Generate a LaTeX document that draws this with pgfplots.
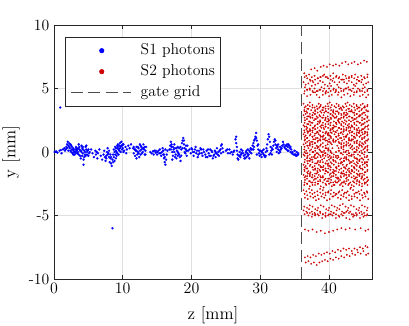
\documentclass[border=0pt]{standalone}
\usepackage{pgfplots}
\pgfplotsset{compat=1.18}
\definecolor{sone}{rgb}{0,0,1}
\definecolor{stwo}{rgb}{0.8,0,0}
\definecolor{axgray}{rgb}{0.15,0.15,0.15}
\pgfplotsset{
  s1 style/.style={only marks, mark=*, color=sone, mark size=0.85bp, mark options={line width=0.1bp}},
  s2 style/.style={only marks, mark=*, color=stwo, mark size=0.6bp, mark options={line width=0.1bp}},
}
% extra S2 tracks sharing one x column
\pgfplotstableread{
x e1 e2 e3 e4 e5 e6 e7 e8 e9 e10 e11 e12 e13 e14 e15 e16 e17 e18 e19 e20
36.45 3.5 3.2 2.7 2.3 2.0 1.55 1.2 0.9 0.4 0.0 -0.3 -0.8 -1.2 -1.5 -2.0 -2.4 5.9 4.8 -3.3 -4.9
36.83 3.4 3.1 2.8 2.2 1.9 1.65 1.1 0.8 0.5 -0.1 -0.4 -0.7 -1.3 -1.6 -1.9 -2.5 5.8 4.9 -3.4 -4.8
37.21 3.6 3.0 2.8 2.4 1.8 1.65 1.3 0.7 0.5 0.1 -0.5 -0.7 -1.1 -1.7 -1.9 -2.3 5.7 4.9 -3.2 -4.8
37.59 3.5 2.9 2.7 2.3 1.7 1.55 1.2 0.6 0.4 0.0 -0.6 -0.8 -1.2 -1.8 -2.0 -2.4 5.6 4.8 -3.3 -4.9
37.97 3.3 3.0 2.6 2.1 1.8 1.45 1.0 0.7 0.3 -0.2 -0.5 -0.9 -1.4 -1.7 -2.1 -2.6 5.7 4.7 -3.5 -5.0
38.35 3.4 3.1 2.7 2.2 1.9 1.55 1.1 0.8 0.4 -0.1 -0.4 -0.8 -1.3 -1.6 -2.0 -2.5 5.8 4.8 -3.4 -4.9
38.73 3.6 3.2 2.8 2.4 2.0 1.65 1.3 0.9 0.5 0.1 -0.3 -0.7 -1.1 -1.5 -1.9 -2.3 5.9 4.9 -3.2 -4.8
39.11 3.5 3.3 2.7 2.3 2.1 1.55 1.2 1.0 0.4 0.0 -0.2 -0.8 -1.2 -1.4 -2.0 -2.4 6.0 4.8 -3.3 -4.9
39.49 3.4 3.2 2.6 2.2 2.0 1.45 1.1 0.9 0.3 -0.1 -0.3 -0.9 -1.3 -1.5 -2.1 -2.5 5.9 4.7 -3.4 -5.0
39.87 3.6 3.1 2.6 2.4 1.9 1.45 1.3 0.8 0.3 0.1 -0.4 -0.9 -1.1 -1.6 -2.1 -2.3 5.8 4.7 -3.2 -5.0
40.25 3.5 3.0 2.7 2.3 1.8 1.55 1.2 0.7 nan 0.0 -0.5 -0.8 -1.2 -1.7 -2.0 -2.4 5.7 4.8 -3.3 -4.9
40.63 3.3 3.1 2.8 2.1 1.9 1.65 1.0 0.8 nan nan -0.4 -0.7 -1.4 -1.6 -1.9 -2.6 5.8 4.9 -3.5 -4.8
41.01 3.5 3.2 2.7 2.3 2.0 1.55 1.2 0.9 nan 0.0 -0.3 -0.8 -1.2 -1.5 -2.0 -2.4 5.9 4.8 -3.3 -4.9
41.39 3.6 3.1 2.6 2.4 1.9 1.45 1.3 0.8 0.3 0.1 -0.4 -0.9 -1.1 -1.6 -2.1 -2.3 5.8 4.7 -3.2 -5.0
41.77 3.4 3.0 2.7 2.2 1.8 1.55 1.1 0.7 0.4 -0.1 -0.5 -0.8 -1.3 -1.7 -2.0 -2.5 5.7 4.8 -3.4 -4.9
42.15 3.5 3.0 2.8 2.3 1.8 1.65 1.2 0.7 0.5 0.0 -0.5 -0.7 -1.2 -1.7 -1.9 -2.4 5.7 4.9 -3.3 -4.8
42.53 3.6 3.1 2.9 2.4 1.9 1.75 1.3 0.8 0.6 0.1 -0.4 -0.6 -1.1 -1.6 -1.8 -2.3 5.8 5.0 -3.2 -4.7
42.91 3.4 3.2 2.8 2.2 2.0 1.65 1.1 0.9 0.5 -0.1 -0.3 -0.7 -1.3 -1.5 -1.9 -2.5 5.9 4.9 -3.4 -4.8
43.29 3.3 3.2 2.7 2.1 2.0 1.55 1.0 0.9 0.4 -0.2 -0.3 -0.8 -1.4 -1.5 -2.0 -2.6 5.9 4.8 -3.5 -4.9
43.67 3.5 3.1 2.6 2.3 1.9 1.45 1.2 0.8 0.3 0.0 -0.4 -0.9 -1.2 -1.6 -2.1 -2.4 5.8 4.7 -3.3 -5.0
44.05 3.6 3.0 2.7 2.4 1.8 1.55 1.3 0.7 0.4 0.1 -0.5 -0.8 -1.1 -1.7 -2.0 -2.3 5.7 4.8 -3.2 -4.9
44.43 3.5 2.9 2.8 2.3 1.7 1.65 1.2 0.6 0.5 0.0 -0.6 -0.7 -1.2 -1.8 -1.9 -2.4 5.6 4.9 -3.3 -4.8
44.81 3.4 3.0 2.7 2.2 1.8 1.55 1.1 0.7 0.4 -0.1 -0.5 -0.8 -1.3 -1.7 -2.0 -2.5 5.7 4.8 -3.4 -4.9
45.19 3.5 3.1 2.6 2.3 1.9 1.45 1.2 0.8 0.3 0.0 -0.4 -0.9 -1.2 -1.6 -2.1 -2.4 5.8 4.7 -3.3 -5.0
45.57 3.6 3.2 2.7 2.4 2.0 1.55 1.3 0.9 0.4 0.1 -0.3 -0.8 -1.1 -1.5 -2.0 -2.3 5.9 4.8 -3.2 -4.9
}\extra
\begin{document}
\begin{tikzpicture}
\begin{axis}[
  scale only axis, width=238.5bp, height=190.5bp,
  xmin=0, xmax=46.25, ymin=-10, ymax=10,
  xtick={0,10,20,30,40}, ytick={-10,-5,0,5,10},
  yticklabels={-10,-5,0,5,10},
  tick label style={font=\fontsize{11.8}{14}\selectfont},
  label style={font=\fontsize{13}{15}\selectfont},
  xlabel={z [mm]}, ylabel={y [mm]},
  xlabel style={yshift=-2.5bp},
  tick align=inside, major tick length=3bp,
  grid=major, grid style={line width=0.4bp, black!12},
  axis line style={axgray, line width=0.6bp},
  every tick/.style={axgray, line width=0.6bp},
  legend cell align=left,
  legend style={at={(0.0346,0.953)}, anchor=north west, draw=axgray,
    line width=0.6bp, inner xsep=3.75bp, inner ysep=4.5bp,
    font=\fontsize{11.8}{14}\selectfont,
    nodes={inner sep=0pt, text height=8.5bp, text depth=2.5bp},
    column sep=6.75bp, row sep=4.75bp},
]
% S1 photons
\addplot[s1 style,
  legend image code/.code={\path[draw=none] (0bp,0bp) -- (45bp,0bp); \fill[sone] (23bp,0bp) circle (1.6bp);}]
coordinates {
(0.1,0.0)(0.3,0.05)(0.5,-0.05)(0.8,0.1)(0.9,3.5)(1.1,-0.1)(1.0,0.15)(1.3,0.2)
(1.5,0.3)(1.6,0.1)(1.8,0.4)(1.9,0.6)(2.0,0.8)(2.1,0.5)(2.2,0.7)(2.3,0.3)(2.4,0.1)(2.5,0.5)(2.6,0.2)(2.7,-0.1)(2.8,0.3)(2.9,0.0)(3.0,-0.2)(3.1,0.2)(3.2,0.4)(3.3,0.1)(3.0,0.0)(2.9,0.2)(3.4,-0.1)(3.5,0.3)(3.6,0.6)(3.7,0.2)(3.8,-0.3)(3.9,0.1)
(4.0,0.5)(4.1,0.3)(4.2,-0.1)(4.3,-0.6)(4.3,-1.0)(4.4,-0.4)(4.5,0.0)(4.6,0.4)(4.7,0.2)(4.8,-0.2)(4.9,0.1)(5.0,-0.3)(4.2,0.2)(4.5,-0.2)(3.9,-0.5)
(5.2,0.0)(5.4,0.2)(5.6,-0.1)(5.8,-0.4)(6.0,0.1)(6.1,-0.2)(6.3,-0.5)(6.4,-0.1)(6.6,0.2)(6.8,-0.3)(7.0,-0.6)(6.2,0.0)
(7.2,-0.2)(7.3,0.1)(7.4,-0.4)(7.5,-0.7)(7.6,-0.3)(7.7,0.0)(7.8,0.3)(7.9,-0.1)(8.0,-0.4)(8.1,-0.8)(8.2,-0.5)(8.3,-0.9)(8.4,-1.1)(8.5,-0.6)(8.5,-6.0)(8.6,-0.2)(8.7,0.2)(8.8,0.0)(8.9,0.4)(9.0,0.1)(9.1,-0.3)(9.2,0.3)(9.3,0.6)(9.4,0.2)(9.5,0.5)(9.6,0.7)(9.7,0.4)(9.8,0.8)(9.9,0.5)(10.0,0.3)(10.1,0.6)(9.0,-0.5)(8.8,-0.7)(9.4,-0.2)(10.2,0.1)
(10.4,0.4)(10.6,0.2)(10.8,0.5)(11.0,0.3)(11.2,0.6)(10.5,-0.1)
(11.5,0.3)(11.6,-0.1)(11.7,0.2)(11.8,-0.3)(11.9,0.1)(12.0,0.4)(12.1,-0.2)(12.2,0.0)(12.3,0.3)(12.4,-0.4)(12.5,0.1)(12.6,0.5)(12.7,0.2)(12.8,-0.1)(12.9,0.3)(13.0,0.6)(13.1,0.2)(13.2,-0.2)(13.3,0.1)(13.4,0.4)(12.0,-0.5)(12.5,0.6)
(14.0,0.0)(14.2,-0.1)(14.4,0.05)(14.6,0.1)(14.8,-0.05)(15.0,0.0)(15.2,0.1)(15.4,0.2)(15.5,-0.1)(15.6,-0.3)(15.7,0.0)(15.8,0.3)(15.9,-0.2)(16.0,-0.5)(16.1,-0.8)(16.2,-1.0)(16.3,-0.6)(16.4,-0.2)(16.5,0.1)(15.0,-0.2)(14.5,-0.2)(16.2,0.2)
(16.8,0.2)(16.9,0.5)(17.0,0.8)(17.1,0.4)(17.2,0.0)(17.3,-0.3)(17.4,0.2)(17.5,0.6)(17.6,0.3)(17.7,-0.2)(17.8,-0.5)(17.9,0.1)(18.0,0.4)(18.1,-0.1)(18.2,0.3)(18.3,-0.4)(18.4,-0.7)(18.5,0.2)(18.6,0.7)(18.7,0.9)(18.8,1.1)(18.9,0.6)(19.0,0.3)(19.1,-0.1)(19.2,0.2)(19.3,-0.3)(19.4,0.5)(19.5,0.1)(17.2,-0.6)(18.0,-0.3)
(19.7,0.2)(19.9,-0.1)(20.0,0.3)(20.2,0.0)(20.3,-0.3)(20.5,0.2)(20.6,0.4)(20.8,0.1)(21.0,-0.2)(21.1,0.1)(21.3,0.3)(21.5,-0.1)(21.6,-0.3)(21.8,0.0)(20.9,-0.4)(21.4,0.2)
(22.0,-0.2)(22.2,0.1)(22.3,-0.4)(22.5,-0.1)(22.7,0.2)(22.8,-0.3)(23.0,0.0)(23.1,-0.5)(23.3,-0.2)(23.4,0.1)(23.6,-0.1)(23.7,0.3)(23.9,0.0)(24.0,-0.3)(24.2,0.2)(24.3,0.5)(24.4,0.6)(24.5,0.3)(24.6,0.0)(23.5,-0.4)
(25.0,0.1)(25.3,-0.1)(25.5,0.2)(25.8,0.0)(26.0,-0.2)(26.2,0.1)
(26.4,1.0)(26.5,1.2)(26.5,0.7)(26.6,0.4)(26.6,0.1)(26.7,-0.2)(26.7,-0.5)(26.8,-0.6)(26.9,-0.3)(27.0,0.0)(27.1,-0.4)(27.2,0.2)(27.3,-0.1)(27.4,0.1)
(27.6,-0.3)(27.7,-0.5)(27.8,-0.2)(27.9,0.0)(28.0,-0.4)(28.1,-0.1)(28.2,0.2)(28.3,-0.2)(28.4,-0.5)(28.5,0.0)(28.6,0.3)(28.7,-0.1)(28.8,0.2)(28.9,0.5)(28.0,0.1)
(29.0,0.7)(29.1,0.4)(29.2,1.0)(29.3,1.2)(29.4,1.5)(29.5,0.9)(29.6,0.5)(29.7,0.2)(29.8,-0.1)(29.9,-0.3)(30.0,0.1)(29.5,-0.2)
(30.1,-0.2)(30.2,-0.4)(30.4,-0.1)(30.5,0.2)(30.6,-0.3)(30.7,-0.4)(30.8,0.0)(30.9,0.3)(31.0,0.6)(31.1,1.0)(31.2,1.4)(31.3,1.2)(31.4,0.8)(31.5,0.4)(31.6,0.1)(31.7,-0.2)(31.8,0.2)(31.9,0.5)(30.3,0.1)
(32.0,0.8)(32.1,1.0)(32.2,0.6)(32.3,0.3)(32.4,0.0)(32.5,0.4)(32.6,0.2)(32.7,-0.1)(32.8,0.1)(32.9,0.4)(33.0,0.2)(33.2,0.5)(33.3,0.8)(33.4,0.6)
(33.6,0.3)(33.7,0.5)(33.8,0.2)(33.9,0.6)(34.0,0.4)(34.1,0.1)(34.2,0.5)(34.3,0.3)(34.4,0.0)(34.6,-0.1)(34.8,-0.2)(35.0,0.1)(35.1,-0.2)(35.2,-0.3)(35.3,0.0)(35.4,-0.2)(35.5,-0.1)
};
\addlegendentry{S1 photons}
% more S1 photons in the dense clusters
\addplot[s1 style, forget plot] coordinates {
(1.7,0.2)(1.9,0.3)(2.1,0.1)(2.2,0.4)(2.4,0.6)(2.5,0.0)(2.6,0.4)(2.8,0.1)(2.8,-0.2)(3.1,0.0)(3.2,-0.1)(3.3,0.3)(3.4,0.2)(3.5,0.0)(3.6,-0.2)(3.7,0.4)(3.8,0.1)(4.0,0.0)(4.1,-0.3)(4.2,0.4)(4.4,0.1)(4.6,-0.3)(4.7,0.5)(4.8,0.0)(5.0,0.2)(5.1,-0.1)
(7.6,-0.5)(7.8,-0.2)(8.0,0.1)(8.2,-0.2)(8.3,-0.4)(8.6,-0.8)(8.7,-0.4)(8.9,-0.2)(9.0,0.3)(9.1,0.0)(9.2,-0.1)(9.3,0.4)(9.5,0.1)(9.6,0.3)(9.7,0.0)(9.8,0.5)(9.9,0.2)(10.0,0.6)(10.1,0.0)(9.2,0.5)
(11.6,0.4)(11.8,0.2)(12.0,0.1)(12.2,0.4)(12.3,-0.1)(12.6,-0.2)(12.7,0.4)(12.9,0.0)(13.0,0.3)(13.2,0.4)(13.3,-0.2)
(14.8,0.1)(15.3,-0.1)(15.9,0.1)(16.0,-0.2)(16.1,-0.4)
(17.0,0.2)(17.1,0.6)(17.3,0.4)(17.5,0.0)(17.6,-0.4)(17.8,0.3)(18.0,0.0)(18.2,-0.2)(18.4,0.4)(18.5,-0.3)(18.7,0.3)(18.9,0.9)(19.0,0.0)(19.2,0.5)(19.3,0.1)
(20.1,0.2)(20.4,0.0)(20.7,-0.1)(21.2,-0.1)(21.7,0.2)
(22.1,-0.4)(22.4,0.2)(22.6,-0.3)(22.9,0.1)(23.2,-0.3)(23.5,0.0)(23.8,-0.2)(24.1,0.1)(24.3,-0.1)
(25.2,0.2)(25.6,-0.1)(26.1,0.0)
(27.0,-0.3)(27.2,-0.2)(27.5,-0.1)(27.8,-0.5)(28.2,-0.3)(28.4,0.1)(28.7,0.2)(29.0,0.2)(29.1,0.9)(29.4,1.1)(29.7,0.6)(29.9,0.1)(30.2,0.0)(30.5,-0.2)(30.8,-0.3)(31.0,0.1)(31.3,-0.2)(31.5,-0.1)(31.7,0.3)
(32.2,0.9)(32.4,0.5)(32.6,0.6)(32.9,0.0)(33.1,0.3)(33.5,0.4)(33.8,0.5)(34.0,0.1)(34.1,0.6)(34.4,0.4)(34.5,0.2)(34.7,0.0)(35.0,-0.2)(35.3,-0.3)(35.5,-0.2)
};
% S2 photons
\addplot[s2 style,
  legend image code/.code={\path[draw=none] (0bp,0bp) -- (45bp,0bp); \fill[stwo] (23bp,0bp) circle (1.6bp);}]
coordinates {
(37.4,6.5)(37.9,6.6)(38.3,6.4)(38.8,6.7)(39.2,6.8)(39.7,6.7)(40.1,6.9)(40.6,6.8)(41.0,6.9)(41.5,6.8)(41.9,7.0)(42.4,7.1)(42.8,6.9)(43.3,7.0)(43.7,7.1)(44.2,6.9)(44.6,7.0)(45.1,7.2)(45.5,7.1)
(36.4,6.2)(36.7,6.0)(37.1,6.1)(37.5,5.9)(37.9,6.0)(38.4,5.8)(38.8,5.9)(39.3,6.1)(39.7,5.9)(40.2,6.0)(40.6,6.2)(41.1,6.0)(41.5,5.9)(42.0,6.1)(42.4,6.0)(42.9,5.8)(43.3,6.0)(43.8,6.1)(44.2,5.9)(44.7,6.0)(45.1,5.9)(45.6,6.1)
(36.3,5.5)(36.6,5.3)(37.0,5.4)(37.3,5.6)(37.7,5.5)(38.0,5.3)(38.4,5.4)(38.7,5.6)(39.1,5.5)(39.4,5.3)(39.8,5.2)(40.1,5.4)(40.5,5.6)(40.8,5.5)(41.2,5.3)(41.5,5.5)(41.9,5.7)(42.2,5.5)(42.6,5.4)(42.9,5.6)(43.3,5.5)(43.6,5.3)(44.0,5.4)(44.3,5.6)(44.7,5.5)(45.0,5.3)(45.4,5.4)(45.7,5.5)
(36.5,5.1)(36.8,4.9)(37.2,5.0)(37.5,5.2)(37.9,5.0)(38.2,4.8)(38.6,4.9)(38.9,5.1)(39.3,5.0)(39.6,4.8)(40.0,5.0)(40.3,5.2)(40.7,5.0)(41.0,4.9)(41.4,5.1)(41.7,5.0)(42.1,4.8)(42.4,5.0)(42.8,5.1)(43.1,4.9)(43.5,5.0)(43.8,5.2)(44.2,5.0)(44.5,4.8)(44.9,5.0)(45.2,5.1)(45.6,4.9)
(36.4,4.6)(36.8,4.4)(37.3,4.5)(37.7,4.7)(38.2,4.5)(38.6,4.3)(39.1,4.5)(39.5,4.6)(40.0,4.4)(40.4,4.5)(40.9,4.7)(41.3,4.5)(41.8,4.3)(42.2,4.5)(42.7,4.6)(43.1,4.4)(43.6,4.5)(44.0,4.7)(44.5,4.4)(44.9,4.5)(45.4,4.3)(45.7,4.5)
(36.3,3.8)(36.6,3.6)(36.9,3.7)(37.2,3.9)(37.6,3.7)(37.9,3.5)(38.2,3.6)(38.5,3.8)(38.8,3.7)(39.2,3.5)(39.5,3.6)(39.8,3.8)(40.1,3.9)(40.4,3.7)(40.8,3.6)(41.1,3.8)(41.4,3.7)(41.7,3.5)(42.0,3.6)(42.4,3.8)(42.7,3.9)(43.0,3.7)(43.3,3.6)(43.6,3.8)(44.0,3.7)(44.3,3.5)(44.6,3.7)(44.9,3.8)(45.2,3.6)(45.6,3.7)
(36.4,3.3)(36.7,3.2)(37.0,3.4)(37.4,3.3)(37.7,3.1)(38.0,3.2)(38.3,3.4)(38.6,3.5)(39.0,3.3)(39.3,3.1)(39.6,3.2)(39.9,3.4)(40.3,3.3)(40.6,3.2)(40.9,3.0)(41.2,3.2)(41.5,3.4)(41.9,3.3)(42.2,3.1)(42.5,3.3)(42.8,3.4)(43.1,3.2)(43.5,3.1)(43.8,3.3)(44.1,3.4)(44.4,3.2)(44.7,3.3)(45.1,3.5)(45.4,3.3)(45.7,3.2)
(36.3,2.9)(36.6,3.0)(37.0,2.8)(37.3,2.7)(37.6,2.9)(37.9,3.0)(38.2,2.8)(38.6,2.9)(38.9,3.1)(39.2,2.9)(39.5,2.7)(39.8,2.8)(40.2,3.0)(40.5,2.9)(40.8,2.7)(41.1,2.8)(41.4,3.0)(41.8,2.9)(42.1,2.7)(42.4,2.9)(42.7,3.0)(43.0,2.8)(43.4,2.7)(43.7,2.9)(44.0,3.0)(44.3,2.8)(44.6,2.9)(45.0,3.1)(45.3,2.9)(45.6,2.8)
(36.5,2.5)(36.8,2.6)(37.1,2.4)(37.4,2.3)(37.8,2.5)(38.1,2.6)(38.4,2.4)(38.7,2.5)(39.0,2.7)(39.4,2.5)(39.7,2.4)(40.0,2.5)(40.3,2.6)(40.7,2.4)(41.0,2.3)(41.3,2.5)(41.6,2.6)(41.9,2.4)(42.3,2.5)(42.6,2.7)(42.9,2.5)(43.2,2.4)(43.5,2.5)(43.9,2.6)(44.2,2.4)(44.5,2.3)(44.8,2.5)(45.1,2.6)(45.5,2.4)(45.8,2.5)
(36.3,2.1)(36.7,2.0)(37.0,2.2)(37.3,2.1)(37.6,1.9)(37.9,2.0)(38.3,2.2)(38.6,2.3)(38.9,2.1)(39.2,1.9)(39.5,2.0)(39.9,2.2)(40.2,2.1)(40.5,1.9)(40.8,2.0)(41.1,2.2)(41.5,2.3)(41.8,2.1)(42.1,2.0)(42.4,2.2)(42.7,2.1)(43.1,1.9)(43.4,2.0)(43.7,2.2)(44.0,2.1)(44.3,1.9)(44.7,2.1)(45.0,2.2)(45.3,2.0)(45.7,2.1)
(36.4,1.7)(36.7,1.8)(37.0,1.6)(37.3,1.7)(37.7,1.9)(38.0,1.8)(38.3,1.6)(38.6,1.7)(38.9,1.9)(39.3,1.8)(39.6,1.6)(39.9,1.5)(40.2,1.7)(40.5,1.8)(40.9,1.6)(41.2,1.7)(41.5,1.9)(41.8,1.8)(42.1,1.6)(42.5,1.7)(42.8,1.9)(43.1,1.7)(43.4,1.6)(43.7,1.8)(44.1,1.7)(44.4,1.5)(44.7,1.7)(45.0,1.8)(45.3,1.6)(45.7,1.8)
(36.3,1.4)(36.6,1.3)(36.9,1.5)(37.3,1.4)(37.6,1.2)(37.9,1.3)(38.2,1.5)(38.5,1.4)(38.8,1.2)(39.2,1.3)(39.5,1.5)(39.8,1.4)(40.1,1.3)(40.4,1.5)(40.8,1.4)(41.1,1.2)(41.4,1.3)(41.7,1.5)(42.0,1.4)(42.4,1.2)(42.7,1.4)(43.0,1.5)(43.3,1.3)(43.6,1.2)(44.0,1.4)(44.3,1.5)(44.6,1.3)(44.9,1.4)(45.2,1.6)(45.6,1.4)
(36.5,1.0)(36.8,1.1)(37.1,0.9)(37.4,0.8)(37.7,1.0)(38.1,1.1)(38.4,0.9)(38.7,1.0)(39.0,1.2)(39.3,1.0)(39.7,0.9)(40.0,1.0)(40.3,1.1)(40.6,0.9)(40.9,0.8)(41.3,1.0)(41.6,1.1)(41.9,0.9)(42.2,1.0)(42.5,1.2)(42.9,1.0)(43.2,0.9)(43.5,1.0)(43.8,1.1)(44.1,0.9)(44.5,0.8)(44.8,1.0)(45.1,1.1)(45.4,0.9)(45.7,1.0)
(36.3,0.6)(36.6,0.7)(36.9,0.5)(37.2,0.6)(37.6,0.8)(37.9,0.7)(38.2,0.5)(38.5,0.4)(38.8,0.6)(39.1,0.7)(39.5,0.5)(39.8,0.6)(40.1,0.8)(40.4,0.6)(41.2,0.5)(41.5,0.7)(41.8,0.6)(42.1,0.4)(42.5,0.5)(42.8,0.7)(43.1,0.6)(43.4,0.5)(43.7,0.7)(44.0,0.8)(44.4,0.6)(44.7,0.5)(45.0,0.6)(45.3,0.7)(45.6,0.5)
(36.4,0.2)(36.7,0.1)(37.0,0.3)(37.4,0.2)(37.7,0.0)(38.0,0.1)(38.3,0.3)(38.6,0.2)(38.9,0.0)(39.3,0.1)(39.6,0.3)(39.9,0.2)(40.2,0.1)(40.5,0.3)(41.5,0.1)(41.8,0.3)(42.1,0.2)(42.4,0.0)(42.8,0.1)(43.1,0.3)(43.4,0.2)(43.7,0.0)(44.0,0.2)(44.3,0.3)(44.7,0.1)(45.0,0.2)(45.3,0.4)(45.6,0.2)
(36.3,-0.2)(36.6,-0.1)(36.9,-0.3)(37.2,-0.2)(37.5,-0.4)(37.9,-0.3)(38.2,-0.1)(38.5,-0.2)(38.8,-0.4)(39.1,-0.3)(39.4,-0.1)(39.8,-0.2)(40.1,-0.3)(40.4,-0.1)(40.7,-0.2)(41.0,-0.4)(41.3,-0.3)(41.7,-0.1)(42.0,-0.2)(42.3,-0.4)(42.6,-0.2)(42.9,-0.1)(43.2,-0.3)(43.6,-0.2)(43.9,0.0)(44.2,-0.2)(44.5,-0.3)(44.8,-0.1)(45.1,-0.2)(45.5,-0.4)
(36.5,-0.6)(36.8,-0.5)(37.1,-0.7)(37.4,-0.6)(37.8,-0.4)(38.1,-0.5)(38.4,-0.7)(38.7,-0.8)(39.0,-0.6)(39.3,-0.5)(39.7,-0.7)(40.0,-0.6)(40.3,-0.4)(40.6,-0.6)(40.9,-0.7)(41.2,-0.5)(41.6,-0.6)(41.9,-0.8)(42.2,-0.7)(42.5,-0.5)(42.8,-0.6)(43.1,-0.8)(43.5,-0.7)(43.8,-0.5)(44.1,-0.6)(44.4,-0.7)(44.7,-0.5)(45.0,-0.6)(45.4,-0.8)(45.7,-0.6)
(36.3,-1.0)(36.6,-1.1)(36.9,-0.9)(37.3,-1.0)(37.6,-1.2)(37.9,-1.1)(38.2,-0.9)(38.5,-1.0)(38.8,-1.2)(39.2,-1.1)(39.5,-0.9)(39.8,-1.0)(40.1,-1.1)(40.4,-0.9)(40.7,-1.0)(41.1,-1.2)(41.4,-1.1)(41.7,-0.9)(42.0,-1.0)(42.3,-1.2)(42.6,-1.0)(43.0,-0.9)(43.3,-1.1)(43.6,-1.2)(43.9,-1.0)(44.2,-0.9)(44.5,-1.1)(44.9,-1.0)(45.2,-0.8)(45.5,-1.0)
(36.4,-1.4)(36.7,-1.3)(37.0,-1.5)(37.3,-1.6)(37.7,-1.4)(38.0,-1.3)(38.3,-1.5)(38.6,-1.4)(38.9,-1.2)(39.2,-1.4)(39.6,-1.5)(39.9,-1.3)(40.2,-1.4)(40.5,-1.6)(40.8,-1.5)(41.1,-1.3)(41.5,-1.4)(41.8,-1.6)(42.1,-1.5)(42.4,-1.3)(42.7,-1.4)(43.0,-1.6)(43.4,-1.5)(43.7,-1.3)(44.0,-1.4)(44.3,-1.5)(44.6,-1.3)(44.9,-1.4)(45.3,-1.6)(45.6,-1.4)
(36.3,-1.8)(36.6,-1.9)(36.9,-1.7)(37.2,-1.8)(37.5,-2.0)(37.9,-1.9)(38.2,-1.7)(38.5,-1.8)(38.8,-2.0)(39.1,-1.9)(39.4,-1.7)(39.8,-1.6)(40.1,-1.8)(40.4,-1.9)(40.7,-1.7)(41.0,-1.8)(41.3,-2.0)(41.7,-1.9)(42.0,-1.7)(42.3,-1.8)(42.6,-2.0)(42.9,-1.8)(43.2,-1.7)(43.6,-1.9)(43.9,-2.0)(44.2,-1.8)(44.5,-1.7)(44.8,-1.9)(45.1,-1.8)(45.5,-2.0)
(36.5,-2.2)(36.8,-2.1)(37.1,-2.3)(37.4,-2.4)(37.8,-2.2)(38.1,-2.1)(38.4,-2.3)(38.7,-2.2)(39.0,-2.0)(39.3,-2.2)(39.7,-2.3)(40.0,-2.1)(40.3,-2.2)(40.6,-2.4)(40.9,-2.3)(41.2,-2.1)(41.6,-2.2)(41.9,-2.4)(42.2,-2.3)(42.5,-2.1)(42.8,-2.2)(43.1,-2.4)(43.5,-2.3)(43.8,-2.1)(44.1,-2.2)(44.4,-2.3)(44.7,-2.1)(45.0,-2.2)(45.4,-2.4)(45.7,-2.2)
(36.4,-2.6)(36.8,-2.5)(37.2,-2.7)(37.6,-2.6)(38.0,-2.4)(38.4,-2.5)(38.8,-2.7)(39.2,-2.8)(39.6,-2.6)(40.0,-2.5)(40.4,-2.7)(40.8,-2.6)(41.2,-2.4)(41.6,-2.6)(42.0,-2.7)(42.4,-2.5)(42.8,-2.6)(43.2,-2.8)(43.6,-2.7)(44.0,-2.5)(44.4,-2.6)(44.8,-2.7)(45.2,-2.5)(45.6,-2.6)
(36.3,-3.0)(36.7,-3.1)(37.1,-2.9)(37.5,-3.0)(37.9,-3.2)(38.3,-3.1)(38.7,-2.9)(39.1,-3.0)(39.5,-3.2)(39.9,-3.1)(40.3,-3.0)(40.7,-3.2)(41.1,-3.3)(41.5,-3.1)(41.9,-3.0)(42.3,-3.2)(42.7,-3.1)(43.1,-2.9)(43.5,-3.0)(43.9,-3.2)(44.3,-3.1)(44.7,-3.0)(45.1,-3.2)(45.5,-3.1)
(36.5,-3.6)(36.9,-3.7)(37.3,-3.5)(37.7,-3.6)(38.1,-3.8)(38.5,-3.7)(38.9,-3.5)(39.3,-3.6)(39.7,-3.8)(40.1,-3.7)(40.5,-3.5)(40.9,-3.4)(41.3,-3.6)(41.7,-3.7)(42.1,-3.5)(42.5,-3.6)(42.9,-3.8)(43.3,-3.7)(43.7,-3.5)(44.1,-3.6)(44.5,-3.8)(44.9,-3.6)(45.3,-3.5)(45.7,-3.7)
(36.4,-4.3)(36.8,-4.4)(37.2,-4.2)(37.6,-4.3)(38.0,-4.5)(38.4,-4.4)(38.8,-4.2)(39.2,-4.3)(39.6,-4.5)(40.0,-4.4)(40.4,-4.2)(40.8,-4.3)(41.2,-4.4)(41.6,-4.2)(42.0,-4.1)(42.4,-4.3)(42.8,-4.4)(43.2,-4.2)(43.6,-4.3)(44.0,-4.5)(44.4,-4.4)(44.8,-4.2)(45.2,-4.3)(45.6,-4.4)
(36.3,-4.6)(36.7,-4.7)(37.1,-4.5)(37.5,-4.7)(37.9,-4.8)(38.3,-4.6)(38.7,-4.7)(39.1,-4.9)(39.5,-4.8)(39.9,-4.6)(40.3,-4.7)(40.7,-4.8)(41.1,-4.6)(41.5,-4.5)(41.9,-4.7)(42.3,-4.8)(42.7,-4.6)(43.1,-4.7)(43.5,-4.9)(43.9,-4.8)(44.3,-4.6)(44.7,-4.7)(45.1,-4.8)(45.5,-4.6)
(37.0,-5.0)(37.5,-5.1)(38.0,-4.9)(38.5,-5.0)(39.0,-5.2)(39.5,-5.1)(40.0,-4.9)(40.5,-5.0)(41.0,-5.2)(41.5,-5.1)(42.0,-5.0)(42.5,-5.2)(43.0,-5.3)(43.5,-5.1)(44.0,-5.0)(44.5,-5.2)(45.0,-5.1)(45.5,-5.0)
(36.5,-6.1)(37.0,-6.2)(37.6,-6.1)(38.2,-6.3)(38.8,-6.2)(39.4,-6.4)(40.0,-6.3)(40.6,-6.2)(41.2,-6.1)(41.8,-6.0)(42.4,-6.1)(43.0,-6.0)(43.8,-6.1)(44.6,-6.0)(45.3,-6.2)(45.7,-6.1)
(36.5,-8.3)(36.9,-8.2)(37.3,-8.3)(37.7,-8.1)(38.1,-8.2)(38.5,-8.0)(38.9,-8.1)(39.3,-8.0)(39.7,-7.9)(40.1,-8.0)(40.5,-7.8)(40.9,-7.9)(41.3,-7.7)(41.7,-7.8)(42.1,-7.6)(42.5,-7.7)(42.9,-7.6)(43.3,-7.8)(43.7,-7.6)(44.1,-7.7)(44.5,-7.5)(44.9,-7.6)(45.3,-7.4)(45.6,-7.5)
(36.6,-8.7)(37.0,-8.6)(37.4,-8.8)(37.8,-8.7)(38.2,-8.9)(38.6,-8.7)(39.0,-8.6)(39.4,-8.5)(39.8,-8.6)(40.2,-8.4)(40.6,-8.5)(41.0,-8.3)(41.4,-8.4)(41.8,-8.2)(42.2,-8.3)(42.6,-8.1)(43.0,-8.2)(43.4,-8.0)(43.8,-8.1)(44.2,-7.9)(44.6,-8.0)(45.0,-7.8)(45.4,-8.1)(45.7,-8.0)
};
\addlegendentry{S2 photons}
\pgfplotsinvokeforeach{1,...,20}{
  \addplot[s2 style, forget plot] table[x=x, y=e#1] {\extra};
}
% gate grid
\addplot[black!70, line width=1bp, dash pattern=on 9bp off 4bp,
  legend image code/.code={\draw[black!70, line width=1bp, dash pattern=on 9bp off 4bp] (0bp,0bp) -- (45bp,0bp);}]
coordinates {(36,-10) (36,10)};
\addlegendentry{gate grid}
\end{axis}
\pgfresetboundingbox
\path[use as bounding box] ([shift={(-40.5bp,-35.25bp)}]current axis.south west) rectangle ([shift={(27.75bp,18.75bp)}]current axis.north east);
\end{tikzpicture}
\end{document}
